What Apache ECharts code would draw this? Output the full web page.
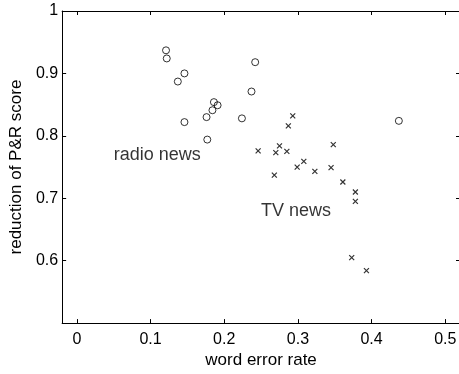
<!DOCTYPE html>
<html>
<head>
<meta charset="utf-8">
<script src="https://cdn.jsdelivr.net/npm/echarts@6/dist/echarts.min.js"></script>
<style>
  html, body { margin: 0; padding: 0; overflow: hidden; background: #fff; }
  #chart { width: 461px; height: 374px; }
</style>
</head>
<body>
<div id="chart"></div>
<script>
  // radio news: [word error rate, reduction of P&R score]
  var radioNews = [
    [0.121, 0.937], [0.122, 0.924], [0.146, 0.900], [0.137, 0.887],
    [0.242, 0.918], [0.237, 0.871], [0.186, 0.854], [0.191, 0.849],
    [0.184, 0.841], [0.176, 0.830], [0.224, 0.828], [0.146, 0.822],
    [0.177, 0.794], [0.437, 0.824]
  ];
  // TV news
  var tvNews = [
    [0.293, 0.832], [0.287, 0.816], [0.348, 0.786], [0.246, 0.776],
    [0.275, 0.784], [0.270, 0.773], [0.285, 0.775], [0.308, 0.759],
    [0.299, 0.750], [0.323, 0.743], [0.345, 0.749], [0.268, 0.737],
    [0.361, 0.726], [0.378, 0.710], [0.378, 0.695], [0.373, 0.605],
    [0.393, 0.584]
  ];
  var annotations = [
    [0.05, 0.77, 'radio news'],
    [0.25, 0.68, 'TV news']
  ];
  var xTicks = [0, 0.1, 0.2, 0.3, 0.4, 0.5];
  var yTicks = [0.6, 0.7, 0.8, 0.9, 1];

  var font = 'Liberation Sans, Arial, Helvetica, sans-serif';
  var line = { show: true, onZero: false, lineStyle: { color: '#000', width: 1 } };
  var tick = { show: true, inside: true, length: 4, lineStyle: { color: '#000' } };

  var chart = echarts.init(document.getElementById('chart'));
  chart.setOption({
    animation: false,
    backgroundColor: '#fff',
    grid: { left: 52, right: 1, top: 11, bottom: 43 },
    xAxis: [{
      type: 'value', min: -0.02, max: 0.52,
      name: 'word error rate', nameLocation: 'middle', nameGap: 24,
      nameTextStyle: { color: '#000', fontSize: 17, fontFamily: font },
      axisLine: line,
      axisTick: Object.assign({ customValues: xTicks }, tick),
      axisLabel: { customValues: xTicks, color: '#000', fontSize: 16, fontFamily: font, margin: 8,
        formatter: function (v) { return String(+v.toFixed(2)); } },
      splitLine: { show: false }
    }, {
      type: 'value', position: 'top', min: -0.02, max: 0.52,
      axisLine: line,
      axisTick: Object.assign({ customValues: xTicks }, tick),
      axisLabel: { show: false },
      splitLine: { show: false }
    }],
    yAxis: [{
      type: 'value', min: 0.5, max: 1,
      name: 'reduction of P&R score', nameLocation: 'middle', nameGap: 31,
      nameTextStyle: { color: '#000', fontSize: 17, fontFamily: font },
      axisLine: line,
      axisTick: Object.assign({ customValues: yTicks }, tick),
      axisLabel: { customValues: yTicks, color: '#000', fontSize: 16, fontFamily: font, margin: 4,
        formatter: function (v) { return String(+v.toFixed(2)); } },
      splitLine: { show: false }
    }, {
      type: 'value', position: 'right', min: 0.5, max: 1,
      axisLine: line,
      axisTick: Object.assign({ customValues: yTicks }, tick),
      axisLabel: { show: false },
      splitLine: { show: false }
    }],
    series: [{
      name: 'radio news',
      type: 'scatter',
      data: radioNews,
      symbol: 'circle',
      symbolSize: 7,
      itemStyle: { color: 'rgba(0,0,0,0)', borderColor: '#000', borderWidth: 1 }
    }, {
      name: 'TV news',
      type: 'scatter',
      data: tvNews,
      symbol: 'path://M0,0L10,10M10,0L0,10',
      symbolSize: 5,
      itemStyle: { color: 'none', borderColor: '#000', borderWidth: 1.2 }
    }, {
      name: 'labels',
      type: 'scatter',
      data: annotations,
      symbolSize: 0,
      silent: true,
      label: {
        show: true, position: 'right', distance: 0,
        color: '#000', fontSize: 18, fontFamily: font,
        formatter: function (p) { return p.value[2]; }
      }
    }]
  });
</script>
</body>
</html>
